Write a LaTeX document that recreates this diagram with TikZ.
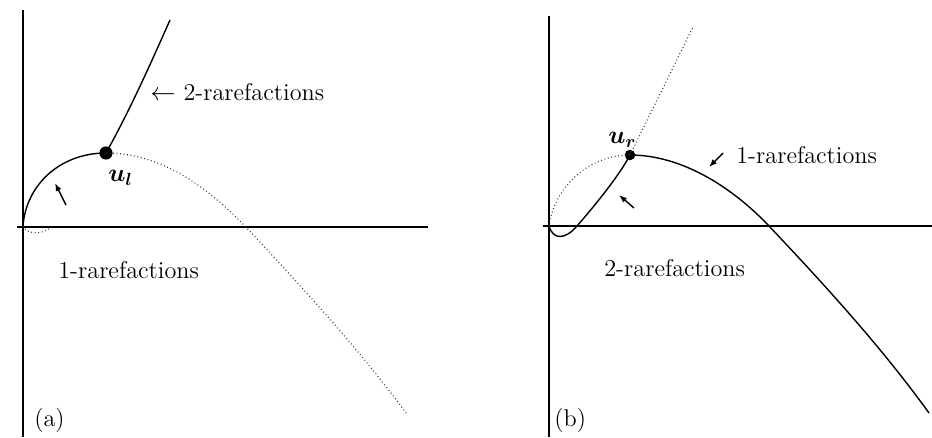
\documentclass[tikz,border=0pt]{standalone}
\usepackage{amsmath}
\usepackage{tikz}
\usetikzlibrary{positioning,arrows.meta}

\begin{document}
\begin{tikzpicture}[x=0.02cm, y=-0.02cm,
  ax/.style={line width=0.7pt},
  crv/.style={line width=0.8pt},
  dots/.style={line width=0.65pt, dash pattern=on 0.5pt off 1.5pt, black!80},
  pt/.style={circle, fill, inner sep=0pt, minimum size=#1},
  lab/.style={font=\fontsize{13.8}{16}\selectfont, inner sep=0pt, anchor=west},
  arr/.style={crv, -{Latex[length=1.6mm, width=1.2mm]}},
]
\useasboundingbox (0,0) rectangle (932,437);

% (a)
\coordinate (oa) at (23,226);
\coordinate (ya) at (23,10);
\coordinate (yb) at (23,437);
\coordinate (xl) at (17,227);
\coordinate (xr) at (428,227);
\node[pt=7.5pt] (ul) at (106,153) {};
\coordinate (cra) at (245,226);
\coordinate (enda) at (406,413);
\coordinate (topa) at (170,20);
\coordinate (dipa) at (52,226);
\draw[ax] (ya) -- (yb);
\draw[ax] (xl) -- (xr);
\draw[crv] (oa) .. controls (26,185) and (60,153) .. (ul.center);
\draw[crv] (ul.center) .. controls (130,110) and (150,65) .. (topa);
\draw[dots] (ul.center) .. controls (160,153) and (205,185) .. (cra)
  .. controls (300,285) and (360,350) .. (enda);
\draw[dots] (oa) .. controls (28,236) and (45,234) .. (dipa);
\coordinate (a1s) at (66,205);
\coordinate (a1e) at (55,183);
\draw[arr] (a1s) -- (a1e);
\node[lab] (r2a) at (150,92) {$\leftarrow$ 2-rarefactions};
\node[lab] (r1a) at (58,270) {1-rarefactions};
\node[lab] (ula) at (108,178) {$\boldsymbol{u_l}$};
\node[lab] (capa) at (34,420) {(a)};

% (b)
\coordinate (ob) at (549,226);
\coordinate (yc) at (549,16);
\coordinate (yd) at (549,437);
\coordinate (xm) at (543,226);
\coordinate (xn) at (932,226);
\node[pt=6pt] (ur) at (630,155) {};
\coordinate (crb) at (769,226);
\coordinate (endb) at (929,413);
\coordinate (topb) at (693,27);
\coordinate (dipb) at (577,226);
\draw[ax] (yc) -- (yd);
\draw[ax] (xm) -- (xn);
\draw[crv] (ob) .. controls (553,240) and (565,240) .. (dipb)
  .. controls (590,211) and (618,178) .. (ur.center);
\draw[crv] (ur.center) .. controls (680,155) and (730,185) .. (crb)
  .. controls (820,280) and (880,345) .. (endb);
\draw[dots] (ob) .. controls (555,185) and (590,155) .. (ur.center);
\draw[dots] (ur.center) -- (topb);
\coordinate (a2s) at (723,153);
\coordinate (a2e) at (709,167);
\draw[arr] (a2s) -- (a2e);
\coordinate (a3s) at (634,208);
\coordinate (a3e) at (619,195);
\draw[arr] (a3s) -- (a3e);
\node[lab] (r1b) at (736,155) {1-rarefactions};
\node[lab] (r2b) at (604,268) {2-rarefactions};
\node[lab] (urb) at (608,140) {$\boldsymbol{u_r}$};
\node[lab] (capb) at (554,420) {(b)};
\end{tikzpicture}
\end{document}
